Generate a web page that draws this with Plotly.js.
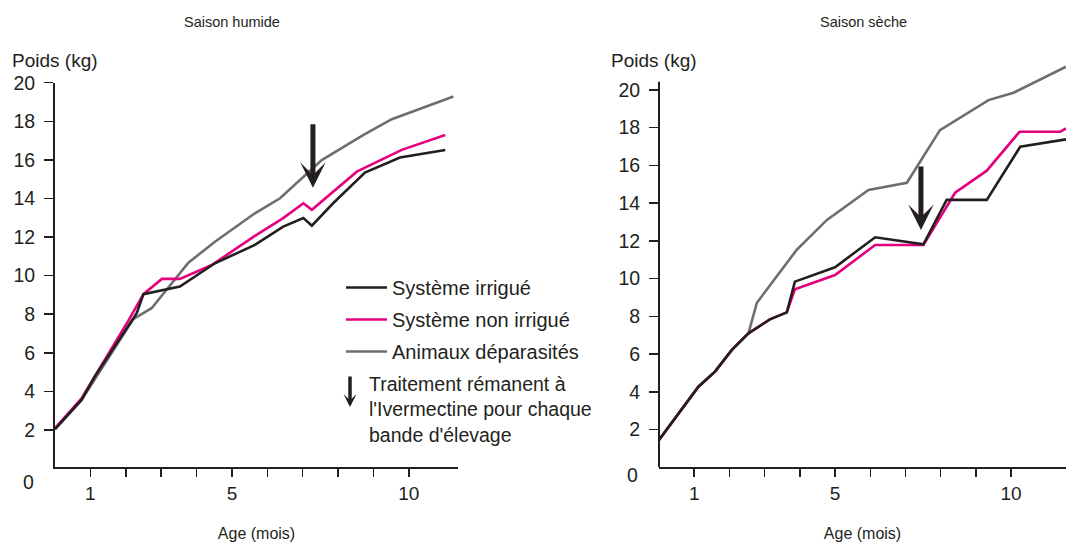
<!DOCTYPE html>
<html>
<head>
<meta charset="utf-8">
<script src="https://cdn.plot.ly/plotly-3.0.1.min.js"></script>
<style>html,body{margin:0;padding:0;background:#fff;}#chart{width:1066px;height:544px;}</style>
</head>
<body>
<div id="chart"></div>
<script>
// ---- Data (age in months, weight in kg) ----
const seriesNames = ['Système irrigué', 'Système non irrigué', 'Animaux déparasités'];
const panelTitles = ['Saison humide', 'Saison sèche'];

// Saison humide
const irrigueHumX = [0, 0.75, 1.13, 2.17, 2.31, 2.50, 3.53, 4.52, 5.65, 6.45, 7.02, 7.26, 7.86, 8.76, 9.75, 11.03];
const irrigueHumY = [2.04, 3.56, 4.79, 7.62, 8.05, 9.04, 9.43, 10.64, 11.59, 12.54, 12.98, 12.59, 13.75, 15.34, 16.12, 16.51];
const nonIrrHumX = [0, 0.75, 2.03, 2.50, 3.02, 3.53, 4.43, 5.65, 6.45, 7.02, 7.26, 8.53, 9.80, 11.03];
const nonIrrHumY = [2.09, 3.64, 7.53, 9.04, 9.83, 9.83, 10.55, 12.06, 12.98, 13.75, 13.41, 15.39, 16.52, 17.29];
const deparHumX = [0, 0.75, 2.21, 2.73, 3.77, 4.52, 5.65, 6.36, 7.54, 8.72, 9.52, 11.26];
const deparHumY = [2.04, 3.56, 7.74, 8.31, 10.67, 11.76, 13.23, 14.01, 15.99, 17.29, 18.11, 19.28];

// Saison sèche
const irrigueSecX = [0, 0.6, 1.12, 1.59, 2.07, 2.54, 3.15, 3.63, 3.86, 5.00, 6.14, 7.51, 8.17, 9.31, 10.26, 11.56];
const irrigueSecY = [1.45, 2.95, 4.27, 5.07, 6.22, 7.10, 7.84, 8.21, 9.84, 10.60, 12.19, 11.82, 14.17, 14.17, 16.99, 17.38];
const nonIrrSecX = [0, 0.6, 1.12, 1.59, 2.07, 2.54, 3.15, 3.63, 3.86, 5.00, 6.14, 7.51, 8.41, 9.31, 10.24, 11.39, 11.56];
const nonIrrSecY = [1.45, 2.95, 4.27, 5.07, 6.22, 7.10, 7.84, 8.21, 9.43, 10.19, 11.78, 11.78, 14.55, 15.72, 17.78, 17.78, 17.96];
const deparSecX = [0, 0.6, 1.12, 1.59, 2.07, 2.54, 2.78, 3.91, 4.77, 5.95, 7.04, 7.98, 9.36, 10.07, 11.56];
const deparSecY = [1.45, 2.95, 4.27, 5.07, 6.22, 7.10, 8.72, 11.52, 13.11, 14.70, 15.08, 17.87, 19.46, 19.85, 21.23];

// Treatment (arrow tips): [age, weight]
const treatHum = [7.29, 14.55];
const treatSec = [7.44, 12.58];

const xTickVals = [1, 2, 3, 4, 5, 6, 7, 8, 9, 10];
const xTickText = ['1', '', '', '', '5', '', '', '', '', '10'];
const yTickVals = [2, 4, 6, 8, 10, 12, 14, 16, 18, 20];
const legendNote = "Traitement rémanent à<br>l'Ivermectine pour chaque<br>bande d'élevage";

// ---- Styling ----
const ink = '#231f20';
const colors = ['#231f20', '#e5007d', '#6d6e71'];
const FONT = 'Liberation Sans, Arial, Helvetica, sans-serif';
const W = 1066, H = 544;
const px = v => v / W;
const py = v => 1 - v / H;

function tr(x, y, i, xa, ya, show) {
  return {
    x: x, y: y, xaxis: xa, yaxis: ya, type: 'scatter', mode: 'lines',
    name: seriesNames[i], legendgroup: 'g' + i, legendrank: i + 1, showlegend: show,
    line: {color: colors[i], width: 2.6},
    hoverinfo: 'skip'
  };
}

const data = [
  tr(deparHumX, deparHumY, 2, 'x', 'y', true),
  tr(nonIrrHumX, nonIrrHumY, 1, 'x', 'y', true),
  tr(irrigueHumX, irrigueHumY, 0, 'x', 'y', true),
  tr(deparSecX, deparSecY, 2, 'x2', 'y2', false),
  tr(nonIrrSecX, nonIrrSecY, 1, 'x2', 'y2', false),
  tr(irrigueSecX, irrigueSecY, 0, 'x2', 'y2', false)
];

const xCommon = {
  tickvals: xTickVals, ticktext: xTickText, ticks: 'outside', ticklen: 8, tickwidth: 1.5,
  tickcolor: ink, showline: true, linecolor: ink, linewidth: 2, showgrid: false, zeroline: false,
  tickfont: {family: FONT, size: 19, color: ink}, fixedrange: true,
  title: {text: 'Age (mois)', font: {family: FONT, size: 16, color: ink}, standoff: 25}
};
const yCommon = {
  tickvals: yTickVals, ticks: 'outside', ticklen: 9, tickwidth: 1.5, tickcolor: ink,
  showgrid: false, zeroline: false, fixedrange: true, ticklabelstandoff: 5,
  tickfont: {family: FONT, size: 19.5, color: ink}
};

const layout = {
  width: W, height: H,
  margin: {l: 0, r: 0, t: 0, b: 0},
  paper_bgcolor: '#fff', plot_bgcolor: 'rgba(0,0,0,0)',
  showlegend: true,
  legend: {
    x: px(341), y: py(268), xanchor: 'left', yanchor: 'top',
    traceorder: 'grouped', tracegroupgap: 3, itemwidth: 41,
    font: {family: FONT, size: 20, color: ink}, bgcolor: 'rgba(0,0,0,0)'
  },
  xaxis: Object.assign({}, xCommon, {domain: [px(55), px(458)], range: [0, 11.39], anchor: 'y'}),
  yaxis: Object.assign({}, yCommon, {domain: [py(467), py(82.7)], range: [0.08, 20.0], anchor: 'x',
    showline: true, linecolor: ink, linewidth: 2}),
  xaxis2: Object.assign({}, xCommon, {domain: [px(659), 1], range: [0, 11.56], anchor: 'y2'}),
  yaxis2: Object.assign({}, yCommon, {domain: [py(467.3), py(63.5)], range: [0, 21.4], anchor: 'x2',
    showline: false}),
  shapes: [
    {type: 'line', xref: 'x2 domain', yref: 'y2', x0: 0, x1: 0, y0: 0, y1: 20.43,
     line: {color: ink, width: 2}}
  ],
  annotations: [
    {text: panelTitles[0], xref: 'paper', yref: 'paper', x: px(232), y: py(22), xanchor: 'center', yanchor: 'middle',
     showarrow: false, font: {family: FONT, size: 14.5, color: ink}},
    {text: panelTitles[1], xref: 'paper', yref: 'paper', x: px(863), y: py(22), xanchor: 'center', yanchor: 'middle',
     showarrow: false, font: {family: FONT, size: 14.5, color: ink}},
    {text: 'Poids (kg)', xref: 'paper', yref: 'paper', x: px(10), y: py(60), xanchor: 'left', yanchor: 'middle',
     showarrow: false, font: {family: FONT, size: 19, color: ink}},
    {text: 'Poids (kg)', xref: 'paper', yref: 'paper', x: px(609), y: py(60), xanchor: 'left', yanchor: 'middle',
     showarrow: false, font: {family: FONT, size: 19, color: ink}},
    {text: '0', xref: 'paper', yref: 'paper', x: px(36), y: py(482), xanchor: 'right', yanchor: 'middle',
     showarrow: false, font: {family: FONT, size: 19.5, color: ink}},
    {text: '0', xref: 'paper', yref: 'paper', x: px(640), y: py(475), xanchor: 'right', yanchor: 'middle',
     showarrow: false, font: {family: FONT, size: 19.5, color: ink}},
    // treatment arrows
    {text: '', xref: 'x', yref: 'y', x: treatHum[0], y: treatHum[1], ax: 0, ay: -65,
     showarrow: true, arrowhead: 3, arrowwidth: 5, arrowsize: 0.85, arrowcolor: ink},
    {text: '', xref: 'x2', yref: 'y2', x: treatSec[0], y: treatSec[1], ax: 0, ay: -65,
     showarrow: true, arrowhead: 3, arrowwidth: 5, arrowsize: 0.85, arrowcolor: ink},
    // legend note
    {text: '', xref: 'paper', yref: 'paper', x: px(350), y: py(407), ax: 0, ay: -32,
     showarrow: true, arrowhead: 3, arrowwidth: 3.5, arrowsize: 0.62, arrowcolor: ink},
    {text: legendNote, xref: 'paper', yref: 'paper', x: px(367), y: py(409), xanchor: 'left', yanchor: 'middle',
     align: 'left', showarrow: false, font: {family: FONT, size: 19.5, color: ink}}
  ]
};

Plotly.newPlot('chart', data, layout, {staticPlot: true, displayModeBar: false});
</script>
</body>
</html>
